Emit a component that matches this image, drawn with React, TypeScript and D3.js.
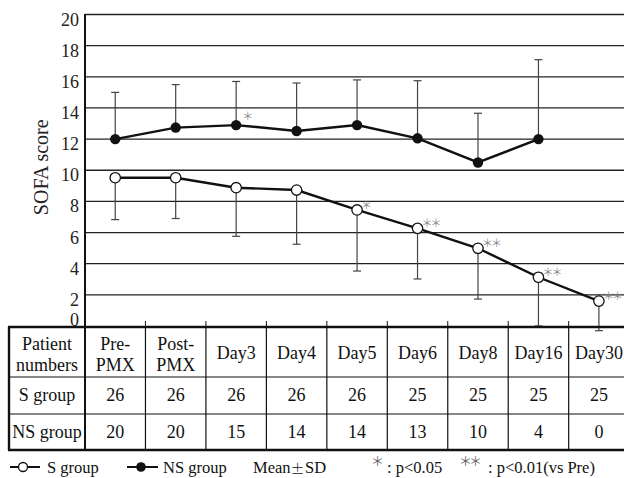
import React, { useEffect, useRef } from "react"
import * as d3 from "d3"

const days = ["Pre-PMX", "Post-PMX", "Day3", "Day4", "Day5", "Day6", "Day8", "Day16", "Day30"]
const headerLines = [["Pre-", "PMX"], ["Post-", "PMX"], ["Day3"], ["Day4"], ["Day5"], ["Day6"], ["Day8"], ["Day16"], ["Day30"]]
// S group (open circles), mean and mean - SD
const sMean = [9.52, 9.52, 8.88, 8.73, 7.45, 6.27, 4.99, 3.13, 1.6]
const sLower = [6.83, 6.9, 5.76, 5.25, 3.53, 3.02, 1.73, 0, -0.3]
const sSig = ["", "", "", "", "＊", "＊＊", "＊＊", "＊＊", "＊＊"]
// NS group (filled circles), mean and mean + SD
const nsMean = [12.0, 12.74, 12.9, 12.52, 12.9, 12.05, 10.5, 12.0, null]
const nsUpper = [15.0, 15.5, 15.7, 15.6, 15.8, 15.75, 13.66, 17.1, null]
const nsSig = ["", "", "＊", "", "", "", "", "", ""]
const sCounts = [26, 26, 26, 26, 26, 25, 25, 25, 25]
const nsCounts = [20, 20, 15, 14, 14, 13, 10, 4, 0]
const yTicks = [0, 2, 4, 6, 8, 10, 12, 14, 16, 18, 20]

const W = 624,
  H = 478
const font = "Liberation Serif"
const cjk = "Noto Sans CJK JP"

function App() {
  const ref = useRef(null)

  useEffect(() => {
    document.body.style.margin = "0"
    const svg = d3.select(ref.current)
    svg.selectAll("*").remove()

    const left = 85,
      colW = 60.46
    const x = d3
      .scaleBand()
      .domain(days)
      .range([left, left + colW * days.length])
    const y = d3.scaleLinear().domain([0, 20]).range([326, 14.5])
    const cx = (i: number) => x(days[i]) + x.bandwidth() / 2

    // grid
    svg
      .append("g")
      .selectAll("line")
      .data(yTicks.filter(d => d > 0))
      .join("line")
      .attr("x1", left)
      .attr("x2", W)
      .attr("y1", d => y(d))
      .attr("y2", d => y(d))
      .attr("stroke", "#222")
      .attr("stroke-width", 1.3)

    // y labels
    svg
      .append("g")
      .selectAll("text")
      .data(yTicks)
      .join("text")
      .attr("x", 79)
      .attr("y", d => (d === 0 ? y(d) - 0.5 : y(d) + 11))
      .attr("text-anchor", "end")
      .style("font-family", font)
      .attr("font-size", 18)
      .attr("fill", "#222")
      .text(d => d)

    svg
      .append("text")
      .attr("transform", `translate(43,${y(10) - 3}) rotate(-90)`)
      .attr("text-anchor", "middle")
      .attr("dominant-baseline", "middle")
      .style("font-family", font)
      .attr("font-size", 20)
      .attr("fill", "#222")
      .text("SOFA score")

    // axes lines
    svg.append("line").attr("x1", left).attr("x2", left).attr("y1", 14).attr("y2", 327).attr("stroke", "#111").attr("stroke-width", 2)

    // x ticks at column bounds
    svg
      .append("g")
      .selectAll("line")
      .data(days.slice(1))
      .join("line")
      .attr("x1", d => x(d))
      .attr("x2", d => x(d))
      .attr("y1", 321)
      .attr("y2", 327)
      .attr("stroke", "#111")
      .attr("stroke-width", 1)

    // error bars
    const capW = 4
    const err = svg.append("g").attr("stroke", "#444").attr("stroke-width", 1.2)
    sMean.forEach((m, i) => {
      err.append("line").attr("x1", cx(i)).attr("x2", cx(i)).attr("y1", y(m)).attr("y2", y(sLower[i]))
      err.append("line").attr("x1", cx(i) - capW).attr("x2", cx(i) + capW).attr("y1", y(sLower[i])).attr("y2", y(sLower[i]))
    })
    nsMean.forEach((m, i) => {
      if (m == null) return
      err.append("line").attr("x1", cx(i)).attr("x2", cx(i)).attr("y1", y(m)).attr("y2", y(nsUpper[i]))
      err.append("line").attr("x1", cx(i) - capW).attr("x2", cx(i) + capW).attr("y1", y(nsUpper[i])).attr("y2", y(nsUpper[i]))
    })

    const line = d3
      .line<number | null>()
      .defined(d => d != null)
      .x((d, i) => cx(i))
      .y(d => y(d as number))

    svg.append("path").datum(sMean).attr("d", line).attr("fill", "none").attr("stroke", "#111").attr("stroke-width", 2.4)
    svg.append("path").datum(nsMean).attr("d", line).attr("fill", "none").attr("stroke", "#111").attr("stroke-width", 2.4)

    svg
      .append("g")
      .selectAll("circle")
      .data(sMean)
      .join("circle")
      .attr("cx", (d, i) => cx(i))
      .attr("cy", d => y(d))
      .attr("r", 5.2)
      .attr("fill", "#fff")
      .attr("stroke", "#111")
      .attr("stroke-width", 1.3)

    svg
      .append("g")
      .selectAll("circle")
      .data(nsMean.map((d, i) => ({ d, i })).filter(o => o.d != null))
      .join("circle")
      .attr("cx", o => cx(o.i))
      .attr("cy", o => y(o.d as number))
      .attr("r", 5.2)
      .attr("fill", "#111")

    // significance marks
    const sig = svg
      .append("g")
      .style("font-family", cjk)
      .attr("font-size", 11)
      .attr("fill", "#888")
      .attr("dominant-baseline", "central")
      .attr("letter-spacing", -2)
    sSig.forEach((s, i) => {
      if (!s) return
      sig.append("text").attr("x", cx(i) + 4).attr("y", y(sMean[i]) - 6).text(s)
    })
    nsSig.forEach((s, i) => {
      if (!s) return
      sig.append("text").attr("x", cx(i) + 6).attr("y", y(nsMean[i] as number) - 10).text(s)
    })

    // table
    const tTop = 327,
      rows = [327, 377, 414, 450],
      tLeft = 9
    const tb = svg.append("g").attr("stroke", "#111")
    tb.append("line").attr("x1", tLeft - 1).attr("x2", W).attr("y1", tTop).attr("y2", tTop).attr("stroke-width", 2.4)
    tb.append("line").attr("x1", tLeft - 1).attr("x2", W).attr("y1", rows[3]).attr("y2", rows[3]).attr("stroke-width", 2.4)
    ;[rows[1], rows[2]].forEach(r => tb.append("line").attr("x1", tLeft).attr("x2", W).attr("y1", r).attr("y2", r).attr("stroke-width", 1.2))
    tb.append("line").attr("x1", tLeft).attr("x2", tLeft).attr("y1", tTop).attr("y2", rows[3]).attr("stroke-width", 2.4)
    tb.append("line").attr("x1", left).attr("x2", left).attr("y1", tTop).attr("y2", rows[3]).attr("stroke-width", 2)
    days.slice(1).forEach(d => tb.append("line").attr("x1", x(d)).attr("x2", x(d)).attr("y1", tTop).attr("y2", rows[3]).attr("stroke-width", 1.2))

    const tt = svg.append("g").style("font-family", font).attr("font-size", 18).attr("fill", "#111").attr("text-anchor", "middle")
    const firstCx = (tLeft + left) / 2
    tt.append("text").attr("x", firstCx).attr("y", 350).text("Patient")
    tt.append("text").attr("x", firstCx).attr("y", 371).text("numbers")
    tt.append("text").attr("x", firstCx).attr("y", 401).text("S group")
    tt.append("text").attr("x", firstCx).attr("y", 438).text("NS group")
    headerLines.forEach((ls, i) => {
      if (ls.length === 2) {
        tt.append("text").attr("x", cx(i)).attr("y", 350).text(ls[0])
        tt.append("text").attr("x", cx(i)).attr("y", 371).text(ls[1])
      } else {
        tt.append("text").attr("x", cx(i)).attr("y", 359).text(ls[0])
      }
    })
    sCounts.forEach((c, i) => tt.append("text").attr("x", cx(i)).attr("y", 401).text(c))
    nsCounts.forEach((c, i) => tt.append("text").attr("x", cx(i)).attr("y", 438).text(c))

    // legend
    const lg = svg.append("g").style("font-family", font).attr("font-size", 16.5).attr("fill", "#111")
    const ly = 467
    lg.append("line").attr("x1", 10).attr("x2", 40).attr("y1", ly).attr("y2", ly).attr("stroke", "#111").attr("stroke-width", 2)
    lg.append("circle").attr("cx", 23).attr("cy", ly).attr("r", 4.5).attr("fill", "#fff").attr("stroke", "#111").attr("stroke-width", 1.3)
    lg.append("text").attr("x", 47).attr("y", ly + 6).text("S group")
    lg.append("line").attr("x1", 127).attr("x2", 158).attr("y1", ly).attr("y2", ly).attr("stroke", "#111").attr("stroke-width", 2)
    lg.append("circle").attr("cx", 141).attr("cy", ly).attr("r", 4.8).attr("fill", "#111")
    lg.append("text").attr("x", 163).attr("y", ly + 6).text("NS group")
    lg.append("text").attr("x", 253).attr("y", ly + 6).text("Mean")
    lg.append("text").attr("x", 297.5).attr("y", ly + 1).attr("text-anchor", "middle").attr("dominant-baseline", "central").style("font-family", cjk).style("font-weight", 300).attr("font-size", 14).text("\u00b1")
    lg.append("text").attr("x", 305).attr("y", ly + 6).text("SD")
    const la = lg.append("g").style("font-family", cjk).attr("font-size", 13).attr("fill", "#666").attr("dominant-baseline", "central").attr("letter-spacing", -3)
    la.append("text").attr("x", 371).attr("y", ly - 7).text("＊")
    lg.append("text").attr("x", 387).attr("y", ly + 6).text(": p<0.05")
    la.append("text").attr("x", 459).attr("y", ly - 7).text("＊＊")
    lg.append("text").attr("x", 488).attr("y", ly + 6).text(": p<0.01(vs Pre)")
  }, [])

  return <svg ref={ref} width={W} height={H} style={{ display: "block", background: "#fff" }}></svg>
}

export default App
